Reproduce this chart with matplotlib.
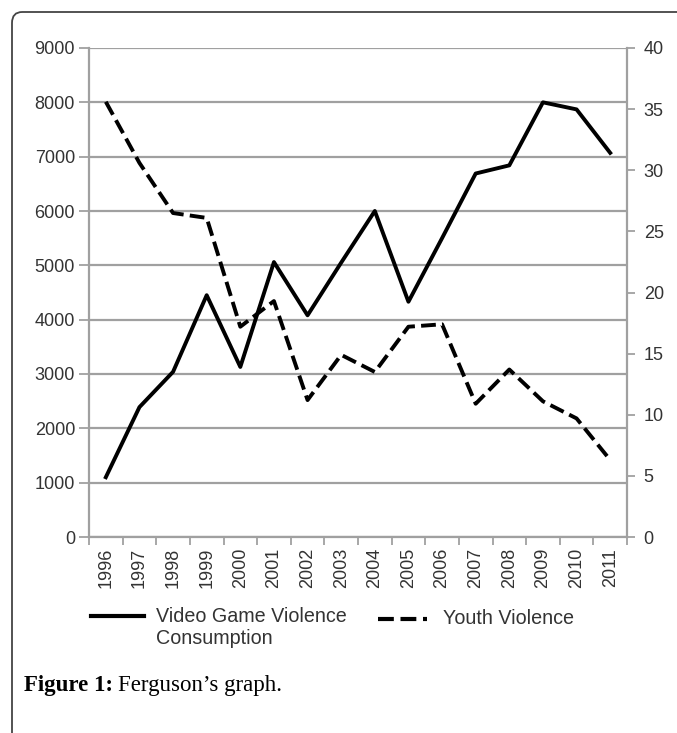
import matplotlib
matplotlib.use("Agg")
import matplotlib.pyplot as plt
from matplotlib.patches import FancyBboxPatch
from matplotlib.lines import Line2D

years = ["1996", "1997", "1998", "1999", "2000", "2001", "2002", "2003",
         "2004", "2005", "2006", "2007", "2008", "2009", "2010", "2011"]
video_game = [1100, 2390, 3040, 4450, 3130, 5060, 4080, 5050,
              6000, 4330, 5500, 6690, 6840, 8000, 7870, 7070]
youth = [35.6, 30.6, 26.5, 26.1, 17.2, 19.3, 11.2, 14.9,
         13.5, 17.2, 17.4, 10.9, 13.7, 11.1, 9.7, 6.3]
left_ticks = [0, 1000, 2000, 3000, 4000, 5000, 6000, 7000, 8000, 9000]
right_ticks = [0, 5, 10, 15, 20, 25, 30, 35, 40]

plt.rcParams['font.family'] = ['Liberation Sans', 'DejaVu Sans']
W, H = 677, 733
fig = plt.figure(figsize=(W / 100, H / 100), dpi=100)

frame = FancyBboxPatch((12 / W, -0.2), 1.0, (H - 12) / H + 0.2,
                       boxstyle="round,pad=0,rounding_size=0.015",
                       transform=fig.transFigure, fill=False,
                       edgecolor="#444444", linewidth=1.3)
fig.patches.append(frame)

AX_L, AX_R, AX_T, AX_B = 89, 627, 48, 537
ax = fig.add_axes([AX_L / W, (H - AX_B) / H, (AX_R - AX_L) / W, (AX_B - AX_T) / H])
x = list(range(len(years)))
grid_c = "#a0a0a0"
text_c = "#333333"
fs = 13
dash = (0, (3.8, 1.6))

ax.plot(x, video_game, color="black", linewidth=2.8)
ax.set_ylim(0, 9000)
ax.set_xlim(-0.5, len(years) - 0.5)
ax.set_yticks(left_ticks)
ax.set_yticklabels([str(t) for t in left_ticks])
ax.yaxis.grid(True, color=grid_c, linewidth=1.6)
ax.set_axisbelow(True)
ax.set_xticks([i - 0.5 for i in range(len(years) + 1)])
ax.set_xticklabels([""] * (len(years) + 1))
ax.set_xticks(x, minor=True)
ax.set_xticklabels(years, minor=True, rotation=90, fontsize=fs, color=text_c)
ax.tick_params(axis="x", which="minor", length=0, pad=8)
ax.tick_params(axis="x", which="major", length=6, color=grid_c, width=1.3)
ax.tick_params(axis="y", length=7, color=grid_c, width=1.3, labelsize=fs,
               labelcolor=text_c, pad=3)
for s in ["left", "right", "bottom"]:
    ax.spines[s].set_color(grid_c)
    ax.spines[s].set_linewidth(1.6)
ax.spines["top"].set_visible(False)

ax2 = ax.twinx()
ax2.plot(x, youth, color="black", linewidth=2.8, linestyle=dash)
ax2.set_ylim(0, 40)
ax2.set_yticks(right_ticks)
ax2.set_yticklabels([str(t) for t in right_ticks])
ax2.tick_params(axis="y", length=6, color=grid_c, width=1.3, labelsize=fs,
                labelcolor=text_c, pad=6)
for s in ["left", "right", "bottom", "top"]:
    ax2.spines[s].set_visible(False)

# legend (manual)
lfs = 14.2
y1 = 1 - 616 / H
fig.add_artist(Line2D([91 / W, 144 / W], [y1, y1], color="black", linewidth=3))
fig.text(156 / W, y1, "Video Game Violence", fontsize=lfs, color=text_c,
         va="center", ha="left")
fig.text(156 / W, 1 - 638 / H, "Consumption", fontsize=lfs, color=text_c,
         va="center", ha="left")
y2 = 1 - 619 / H
fig.add_artist(Line2D([378 / W, 427 / W], [y2, y2], color="black",
                      linewidth=3, linestyle=dash))
fig.text(443 / W, y2, "Youth Violence", fontsize=lfs, color=text_c,
         va="center", ha="left")

# caption
cfs = 16.5
cap1 = fig.text(24 / W, 1 - 685 / H, "Figure 1:", fontsize=cfs,
                family="Liberation Serif", weight="bold", va="center",
                ha="left", color="black")
fig.canvas.draw()
bb = cap1.get_window_extent()
fig.text((bb.x1 + 5) / W, 1 - 685 / H, "Ferguson\u2019s graph.", fontsize=cfs,
         family="Liberation Serif", va="center", ha="left", color="black")

fig.savefig("out.png", dpi=100)
